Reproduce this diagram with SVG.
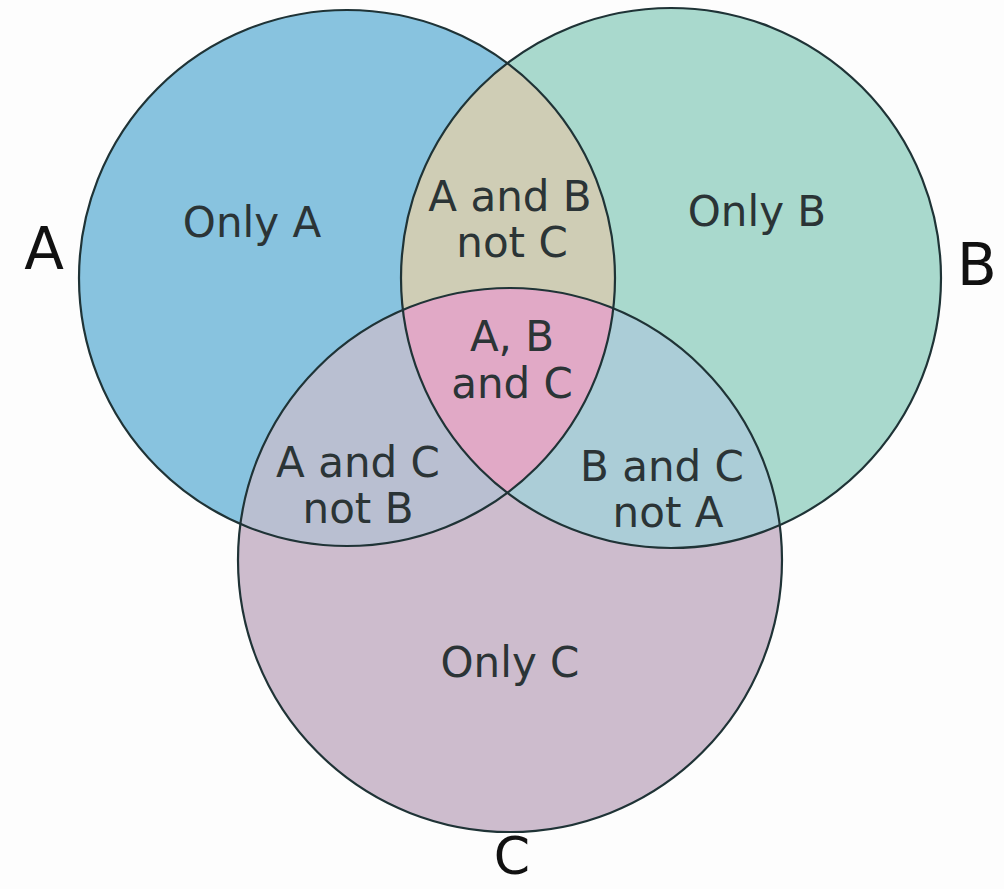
<svg xmlns="http://www.w3.org/2000/svg" width="1004" height="889" viewBox="0 0 1004 889">
<defs>
<style>
.lbl{font-family:"DejaVu Sans","Liberation Sans",sans-serif;font-size:42px;fill:#2b3436;text-anchor:middle}
.big{font-family:"DejaVu Sans","Liberation Sans",sans-serif;font-size:58px;fill:#111;text-anchor:middle}
.edge{fill:none;stroke:#1f3336;stroke-width:2.2}
</style>
<clipPath id="clipA"><circle cx="347" cy="278" r="268"/></clipPath>
<clipPath id="clipB"><circle cx="671" cy="278" r="270"/></clipPath>
<clipPath id="clipC"><circle cx="510" cy="560" r="272"/></clipPath>
</defs>
<rect width="1004" height="889" fill="#fdfdfd"/>
<g id="setA"><circle cx="347" cy="278" r="268" fill="#88c3df"/></g>
<g id="setB"><circle cx="671" cy="278" r="270" fill="#a9d9cd"/></g>
<g id="setC"><circle cx="510" cy="560" r="272" fill="#cdbccd"/></g>
<g id="AB"><circle cx="671" cy="278" r="270" fill="#cfcdb5" clip-path="url(#clipA)"/></g>
<g id="AC"><circle cx="510" cy="560" r="272" fill="#b9bfd1" clip-path="url(#clipA)"/></g>
<g id="BC"><circle cx="510" cy="560" r="272" fill="#abcdd7" clip-path="url(#clipB)"/></g>
<g id="ABC"><g clip-path="url(#clipA)"><circle cx="510" cy="560" r="272" fill="#e1a9c6" clip-path="url(#clipB)"/></g></g>
<g id="connectors">
<circle class="edge" cx="347" cy="278" r="268"/>
<circle class="edge" cx="671" cy="278" r="270"/>
<circle class="edge" cx="510" cy="560" r="272"/>
</g>
<g id="labels">
<text class="lbl" x="252" y="237">Only A</text>
<text class="lbl" x="510" y="211">A and B</text>
<text class="lbl" x="512" y="257">not C</text>
<text class="lbl" x="757" y="226">Only B</text>
<text class="lbl" x="512" y="351">A, B</text>
<text class="lbl" x="512" y="398">and C</text>
<text class="lbl" x="358" y="477">A and C</text>
<text class="lbl" x="358" y="523">not B</text>
<text class="lbl" x="662" y="481">B and C</text>
<text class="lbl" x="668" y="527">not A</text>
<text class="lbl" x="510" y="677">Only C</text>
<text class="big" x="44" y="269">A</text>
<text class="big" x="977" y="285">B</text>
<text class="big" x="512" y="874" style="font-size:52px">C</text>
</g>
</svg>
